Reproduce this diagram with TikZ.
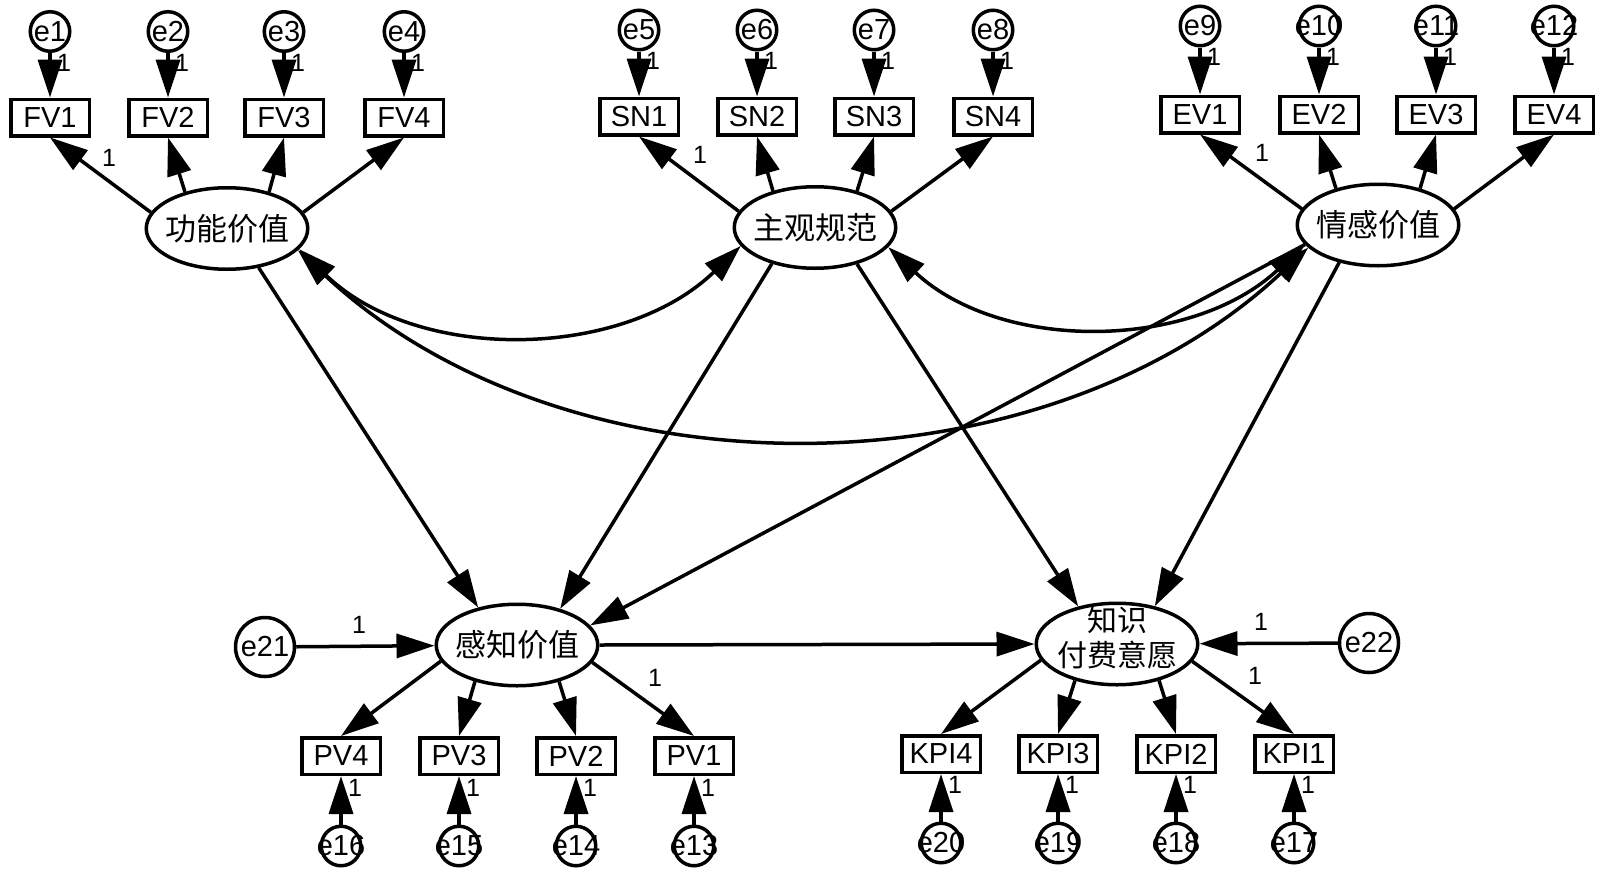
\documentclass[tikz,border=0pt]{standalone}
\usepackage{fontspec}
\setmainfont{Liberation Sans}
\newfontfamily\cjk{Noto Sans CJK SC}
\usetikzlibrary{arrows.meta,shapes.geometric}
\newcommand\zw[1]{\makebox[0pt]{#1}}
\tikzset{
  bighead/.tip={Triangle[length=38pt,width=24pt]},
  lw/.style={line width=3.5pt},
  obs/.style={draw,lw,minimum width=78.5pt,minimum height=36.5pt,inner sep=0pt,font=\fontsize{29}{32}\selectfont},
  err/.style={draw,circle,lw,minimum size=39.5pt,inner sep=0pt,font=\fontsize{29}{32}\selectfont},
  bigerr/.style={err,minimum size=59pt},
  lat/.style={draw,ellipse,lw,minimum width=161.5pt,minimum height=81.5pt,inner sep=0pt,font=\cjk\fontsize{31}{36}\selectfont},
  lattext/.style={inner sep=0pt,align=center,font=\cjk\fontsize{30}{35}\selectfont},
  arr/.style={lw,-bighead},
  cov/.style={lw,bighead-bighead},
  one/.style={inner sep=0pt,font=\fontsize{25}{27}\selectfont},
}
\begin{document}
\begin{tikzpicture}[x=1pt,y=-1pt]
\useasboundingbox (0,0) rectangle (1600,873);
% latent variables
\node[lat] (fv) at (227,228.5) {\zw{功能价值}};
\node[lat] (sn) at (815,227.5) {\zw{主观规范}};
\node[lat] (ev) at (1378,225) {\zw{情感价值}};
\node[lat] (pv) at (517,645) {\zw{感知价值}};
\node[lat] (kpi) at (1117,644) {};
\node[lattext] (kpit) at (1117,638) {知识\\付费意愿};
% top indicators
\node[obs] (fv1) at (50,117.5) {FV1};
\node[obs] (fv2) at (168,117.5) {FV2};
\node[obs] (fv3) at (284,117.5) {FV3};
\node[obs] (fv4) at (404,117.5) {FV4};
\node[obs] (sn1) at (639,116.5) {SN1};
\node[obs] (sn2) at (757,116.5) {SN2};
\node[obs] (sn3) at (874,116.5) {SN3};
\node[obs] (sn4) at (993,116.5) {SN4};
\node[obs] (ev1) at (1200,114.5) {EV1};
\node[obs] (ev2) at (1319,114.5) {EV2};
\node[obs] (ev3) at (1436,114.5) {EV3};
\node[obs] (ev4) at (1554,114.5) {EV4};
% top errors
\node[err] (e1) at (50,31.5) {\zw{e1}};
\node[err] (e2) at (168,31.5) {\zw{e2}};
\node[err] (e3) at (284,31.5) {\zw{e3}};
\node[err] (e4) at (404,31.5) {\zw{e4}};
\node[err] (e5) at (639,30) {\zw{e5}};
\node[err] (e6) at (757,30) {\zw{e6}};
\node[err] (e7) at (874,30) {\zw{e7}};
\node[err] (e8) at (993,30) {\zw{e8}};
\node[err] (e9) at (1200,26) {\zw{e9}};
\node[err] (e10) at (1319,26) {\zw{e10}};
\node[err] (e11) at (1436,26) {\zw{e11}};
\node[err] (e12) at (1554,26) {\zw{e12}};
% bottom indicators
\node[obs] (pv4) at (341,756) {PV4};
\node[obs] (pv3) at (459,756) {PV3};
\node[obs] (pv2) at (576,756) {PV2};
\node[obs] (pv1) at (694,756) {PV1};
\node[obs] (kpi4) at (941,754) {KPI4};
\node[obs] (kpi3) at (1058,754) {KPI3};
\node[obs] (kpi2) at (1176,754) {KPI2};
\node[obs] (kpi1) at (1294,754) {KPI1};
% bottom errors
\node[err] (e16) at (341,846) {\zw{e16}};
\node[err] (e15) at (459,846) {\zw{e15}};
\node[err] (e14) at (576,846) {\zw{e14}};
\node[err] (e13) at (694,846) {\zw{e13}};
\node[err] (e20) at (941,843) {\zw{e20}};
\node[err] (e19) at (1058,843) {\zw{e19}};
\node[err] (e18) at (1176,843) {\zw{e18}};
\node[err] (e17) at (1294,843) {\zw{e17}};
\node[bigerr] (e21) at (265,647) {\zw{e21}};
\node[bigerr] (e22) at (1369,643) {\zw{e22}};
% loadings (top)
\foreach \l in {fv,sn,ev}{
  \draw[arr] (\l.168) -- (\l1.south);
  \draw[arr] (\l.139) -- (\l2.south);
  \draw[arr] (\l.41) -- (\l3.south);
  \draw[arr] (\l.12) -- (\l4.south);
}
% loadings (bottom)
\foreach \l in {pv,kpi}{
  \draw[arr] (\l.-168) -- (\l4.north);
  \draw[arr] (\l.-139) -- (\l3.north);
  \draw[arr] (\l.-41) -- (\l2.north);
  \draw[arr] (\l.-13) -- (\l1.north);
}
% error arrows
\foreach \e/\b in {e1/fv1,e2/fv2,e3/fv3,e4/fv4,e5/sn1,e6/sn2,e7/sn3,e8/sn4,e9/ev1,e10/ev2,e11/ev3,e12/ev4,e13/pv1,e14/pv2,e15/pv3,e16/pv4,e17/kpi1,e18/kpi2,e19/kpi3,e20/kpi4}{
  \draw[arr] (\e) -- (\b);
}
\draw[arr] (e21) -- (pv);
\draw[arr] (e22) -- (kpi);
% structural paths
\draw[arr] (fv.-51.5) -- (pv.136.5);
\draw[arr] (sn.-140) -- (pv.40);
\draw[arr] (sn.-41) -- (kpi.136);
\draw[arr] (ev.-136) -- (kpi.45);
\draw[arr] (ev.-165) -- (pv.15);
\draw[arr] (pv.east) -- (kpi.west);
% covariances
\draw[cov] (fv.-16) to[out=-44,in=-136,looseness=0.95] (sn.-166);
\draw[cov] (sn.-15) to[out=-43,in=-137,looseness=0.95] (ev.-165);
\draw[cov] (fv.-17) to[out=-43,in=-137,looseness=0.93] (ev.-162);
% labels "1"
\node[one] (l1) at (109,158) {1};
\node[one] (l2) at (700,155) {1};
\node[one] (l3) at (1262,153) {1};
\node[one] (l4) at (655,678) {1};
\node[one] (l5) at (1255,676) {1};
\node[one] (l6) at (359,625) {1};
\node[one] (l7) at (1261,622) {1};
\foreach \e in {e1,e2,e3,e4,e5,e6,e7,e8,e9,e10,e11,e12}{
  \node[one] at ([shift={(14pt,-31pt)}]\e.center) {1};
}
\foreach \e in {e13,e14,e15,e16,e17,e18,e19,e20}{
  \node[one] at ([shift={(14pt,58pt)}]\e.center) {1};
}
\end{tikzpicture}
\end{document}
